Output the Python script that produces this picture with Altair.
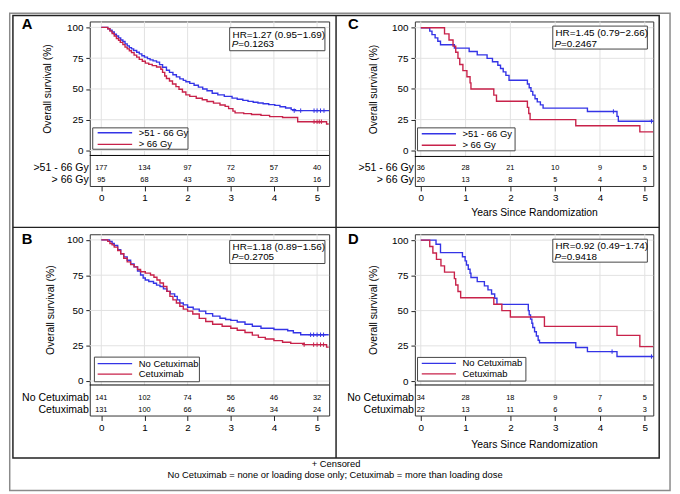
import altair as alt
import pandas as pd

FONT = "Liberation Sans"
BLUE = "#3434e6"
RED = "#c8224a"
GRIDC = "#e2e2e2"
FRAMEC = "#333333"
BOXC = "#444444"
PLUS = "M-1,0L1,0M0,-1L0,1"

TICKS_X = [0, 1, 2, 3, 4, 5]
TICKS_Y = [0, 25, 50, 75, 100]
YTITLE = "Overall survival (%)"
XTITLE = "Years Since Randomization"

# ---------------- Panel A : radiation dose, all patients ----------------
a_groups = [">51 - 66 Gy", "> 66 Gy"]
a_blue_t = [0, 0.15, 0.2, 0.25, 0.3, 0.35, 0.4, 0.45, 0.5, 0.55, 0.6, 0.65, 0.7, 0.75, 0.82, 0.88, 0.94, 1.0,
            1.07, 1.13, 1.2, 1.28, 1.35, 1.42, 1.51, 1.58, 1.66, 1.74, 1.82, 1.9, 1.96, 2.05, 2.15, 2.25, 2.35,
            2.45, 2.57, 2.7, 2.85, 3.03, 3.15, 3.28, 3.4, 3.52, 3.63, 3.75, 3.88, 4.02, 4.14, 4.27, 4.4, 4.5, 5.28]
a_blue_s = [100, 98.9, 97.7, 96.2, 94.4, 93.0, 91.5, 89.8, 88.5, 86.6, 85.0, 83.6, 82.5, 81.2, 79.8, 78.5, 77.0,
            75.8, 74.6, 73.6, 72.8, 71.8, 69.8, 67.6, 65.2, 63.5, 61.5, 59.8, 58.2, 57.0, 55.9, 54.5, 53.0, 51.5,
            50.0, 48.5, 46.5, 45.2, 44.0, 42.6, 41.6, 40.7, 39.9, 39.2, 38.6, 38.0, 37.3, 36.7, 35.6, 34.5, 33.2,
            32.4, 32.4]
a_red_t = [0, 0.15, 0.2, 0.25, 0.3, 0.35, 0.4, 0.44, 0.5, 0.55, 0.6, 0.65, 0.7, 0.76, 0.82, 0.88, 0.95, 1.02,
           1.1, 1.18, 1.28, 1.38, 1.42, 1.47, 1.51, 1.58, 1.65, 1.73, 1.8, 1.88, 1.96, 2.05, 2.2, 2.34, 2.45,
           2.6, 2.75, 2.87, 2.95, 3.05, 3.1, 3.3, 3.48, 3.7, 3.9, 4.2, 4.55, 5.22, 5.27]
a_red_s = [100, 98.9, 97.0, 95.0, 93.0, 91.0, 89.5, 87.8, 86.0, 84.0, 82.5, 81.0, 79.5, 77.5, 75.8, 74.0, 72.5,
           71.0, 70.0, 68.9, 67.8, 66.0, 63.5, 60.5, 58.5, 56.5, 54.0, 51.9, 49.8, 47.5, 45.2, 44.0, 42.5, 41.2,
           39.8, 38.5, 37.0, 35.9, 34.0, 32.0, 30.6, 30.0, 29.3, 28.5, 27.5, 26.8, 23.4, 21.5, 21.5]
a_cens_blue_t = [4.47, 4.62, 4.93, 5.0, 5.08, 5.16]
a_cens_blue_s = [32.4, 32.4, 32.4, 32.4, 32.4, 32.4]
a_cens_red_t = [4.93, 5.0, 5.05, 5.1]
a_cens_red_s = [23.4, 23.4, 23.4, 23.4]
a_risk_1 = [177, 134, 97, 72, 57, 40]
a_risk_2 = [95, 68, 43, 30, 23, 16]
a_hr = "HR=1.27 (0.95\u22121.69)"
a_p = "=0.1263"

# ---------------- Panel B : cetuximab, all patients ----------------
b_groups = ["No Cetuximab", "Cetuximab"]
b_blue_t = [0, 0.19, 0.25, 0.3, 0.38, 0.45, 0.52, 0.6, 0.68, 0.76, 0.84, 0.91, 0.97, 1.02, 1.1, 1.21, 1.28, 1.36,
            1.44, 1.52, 1.6, 1.7, 1.76, 1.82, 1.9, 2.0, 2.13, 2.27, 2.42, 2.58, 2.75, 2.88, 3.0, 3.15, 3.33, 3.5,
            3.7, 4.0, 4.32, 4.45, 4.62, 5.27]
b_blue_s = [100, 99.0, 97.5, 96.0, 93.0, 90.2, 88.0, 85.6, 83.0, 80.9, 78.0, 75.1, 73.0, 71.6, 70.5, 69.3, 68.0,
            67.0, 65.3, 63.5, 61.8, 60.0, 57.5, 55.3, 54.0, 52.3, 51.0, 49.5, 47.8, 46.0, 44.5, 43.6, 43.0, 41.8,
            40.2, 38.8, 37.4, 36.5, 35.6, 34.2, 32.8, 32.8]
b_red_t = [0, 0.15, 0.2, 0.25, 0.3, 0.38, 0.45, 0.52, 0.6, 0.68, 0.76, 0.84, 0.91, 1.02, 1.14, 1.22, 1.29, 1.36,
           1.44, 1.52, 1.59, 1.66, 1.74, 1.82, 1.9, 2.0, 2.12, 2.27, 2.42, 2.58, 2.8, 3.0, 3.15, 3.33, 3.5, 3.64,
           3.8, 4.0, 4.2, 4.39, 4.7, 5.22, 5.27]
b_red_s = [100, 99.0, 97.5, 96.5, 94.9, 92.5, 90.2, 87.0, 84.4, 82.5, 80.9, 79.0, 77.4, 76.5, 75.1, 73.5, 71.6,
           69.5, 67.0, 63.5, 60.0, 57.5, 55.3, 53.0, 51.0, 49.5, 47.5, 44.4, 42.2, 40.2, 38.8, 37.4, 36.0, 34.4,
           32.5, 30.9, 29.8, 28.6, 27.5, 26.7, 25.8, 24.0, 24.0]
b_cens_blue_t = [4.85, 4.92, 5.0, 5.08, 5.15]
b_cens_blue_s = [32.8, 32.8, 32.8, 32.8, 32.8]
b_cens_red_t = [4.7, 4.92, 5.0, 5.08, 5.15]
b_cens_red_s = [25.8, 25.8, 25.8, 25.8, 25.8]
b_risk_1 = [141, 102, 74, 56, 46, 32]
b_risk_2 = [131, 100, 66, 46, 34, 24]
b_hr = "HR=1.18 (0.89\u22121.56)"
b_p = "=0.2705"

# ---------------- Panel C : radiation dose, subgroup ----------------
c_groups = [">51 - 66 Gy", "> 66 Gy"]
c_blue_t = [0, 0.2, 0.25, 0.32, 0.38, 0.44, 0.75, 1.08, 1.26, 1.48, 1.6, 1.72, 1.78, 1.84, 1.9, 1.97, 2.38, 2.42,
            2.46, 2.5, 2.55, 2.6, 2.67, 2.73, 3.72, 4.38, 4.41, 5.19]
c_blue_s = [100, 97.2, 94.4, 91.7, 88.9, 86.1, 83.3, 80.6, 77.8, 75.0, 72.2, 69.4, 66.7, 63.9, 61.1, 57.1, 54.0,
            51.0, 48.0, 45.0, 42.0, 39.5, 37.0, 34.3, 31.6, 27.6, 23.6, 23.6]
c_red_t = [0, 0.53, 0.63, 0.72, 0.78, 0.83, 0.87, 0.94, 1.03, 1.1, 1.12, 1.63, 1.69, 2.38, 2.41, 2.44, 3.46, 4.89, 5.19]
c_red_s = [100, 95, 90, 85, 80, 75, 70, 65, 60, 55, 50, 45, 40, 35, 30, 25, 20, 15, 15]
c_cens_blue_t = [4.3, 5.15]
c_cens_blue_s = [31.6, 23.6]
c_cens_red_t = []
c_cens_red_s = []
c_risk_1 = [36, 28, 21, 10, 9, 5]
c_risk_2 = [20, 13, 8, 5, 4, 3]
c_hr = "HR=1.45 (0.79\u22122.66)"
c_p = "=0.2467"

# ---------------- Panel D : cetuximab, subgroup ----------------
d_groups = ["No Cetuximab", "Cetuximab"]
d_blue_t = [0, 0.34, 0.44, 0.93, 0.99, 1.02, 1.06, 1.1, 1.12, 1.26, 1.42, 1.5, 1.58, 1.65, 1.7, 2.4, 2.42, 2.45,
            2.48, 2.5, 2.54, 2.58, 2.62, 2.65, 3.46, 3.72, 4.38, 5.19]
d_blue_s = [100, 97.1, 91.2, 88.2, 85.3, 82.4, 79.4, 76.5, 73.5, 70.6, 67.6, 64.7, 61.8, 58.8, 54.4, 50.0, 47.0,
            44.0, 41.0, 38.0, 35.0, 32.0, 29.0, 27.2, 23.8, 20.9, 17.4, 17.4]
d_red_t = [0, 0.2, 0.27, 0.35, 0.45, 0.53, 0.75, 0.78, 0.83, 0.89, 1.63, 1.81, 2.0, 2.76, 4.38, 4.89, 5.19]
d_red_s = [100, 95.5, 90.9, 86.4, 81.8, 77.3, 72.7, 68.2, 63.6, 59.1, 54.5, 50.0, 45.5, 38.8, 32.4, 24.4, 24.4]
d_cens_blue_t = [4.27, 5.15]
d_cens_blue_s = [20.9, 17.4]
d_cens_red_t = []
d_cens_red_s = []
d_risk_1 = [34, 28, 18, 9, 7, 5]
d_risk_2 = [22, 13, 11, 6, 6, 3]
d_hr = "HR=0.92 (0.49\u22121.74)"
d_p = "=0.9418"

FOOT_1 = "+ Censored"
FOOT_2 = "No Cetuximab = none or loading dose only; Cetuximab = more than loading dose"

# ---------------- geometry (pixels, styles only) ----------------
GEO = {
    "A": dict(W=243, H=167, Hp=136, xdom=[-0.267, 5.28], ydom=[-4.0, 104.8], ry=[149, 161], ytx=-43,
              xtitle=False, tp=5, hr=(142, 238.7, 6.3, 29.7), hrt=(145, 16.3, 26.3),
              leg=(3, 99.7, 108, 129.7), legl=(8, 43, 113, 124.7), legt=49.7, let=(-69, 8)),
    "B": dict(W=243, H=184, Hp=153, xdom=[-0.267, 5.28], ydom=[-2.8, 104.0], ry=[166, 178], ytx=-39.5,
              xtitle=False, tp=5, hr=(142, 238.7, 6.3, 29.7), hrt=(145, 16.3, 26.3),
              leg=(4.7, 111.3, 124.7, 149.7), legl=(8, 43, 131.3, 142), legt=49.7, let=(-69, 10)),
    "C": dict(W=242, H=167, Hp=137, xdom=[-0.132, 5.19], ydom=[-5.1, 105.1], ry=[148.7, 161], ytx=-42,
              xtitle=True, tp=5, hr=(140, 236, 4.7, 28), hrt=(142.7, 14.7, 25.7),
              leg=(2.7, 101.7, 108, 131.3), legl=(7, 41.7, 114, 125.7), legt=48.3, let=(-68, 8)),
    "D": dict(W=242, H=184, Hp=153, xdom=[-0.132, 5.19], ydom=[-2.8, 104.2], ry=[166, 178], ytx=-42,
              xtitle=True, tp=7, hr=(140, 236, 5, 28.3), hrt=(142.7, 15, 26),
              leg=(2.7, 112.7, 125, 149), legl=(7, 41.7, 131, 141.7), legt=48.3, let=(-68, 10)),
}


def one():
    return pd.DataFrame({"k": [0]})


def txt(s):
    return pd.DataFrame({"s": [s]})


def km_panel(letter, groups, bt, bs, rt, rs, cbt, cbs, crt, crs, risk1, risk2, hr, pv, g):
    assert len(bt) == len(bs) and len(rt) == len(rs)
    W, H, Hp = g["W"], g["H"], g["Hp"]
    xs = alt.Scale(domain=g["xdom"], nice=False, zero=False)
    ys = alt.Scale(domain=g["ydom"], range=[Hp, 0], nice=False, zero=False)
    cs = alt.Scale(domain=groups, range=[BLUE, RED])

    curves = pd.DataFrame({"t": bt + rt, "S": bs + rs,
                           "group": [groups[0]] * len(bt) + [groups[1]] * len(rt)})
    cens = pd.DataFrame({"t": cbt + crt, "S": cbs + crs,
                         "group": [groups[0]] * len(cbt) + [groups[1]] * len(crt)})

    xa = dict(values=TICKS_X, format="d", grid=False, domain=False, tickSize=5, tickColor="#222222",
              labelFont=FONT, labelFontSize=10, labelColor="black", labelPadding=2, labelFlush=False,
              titleFont=FONT, titleFontSize=10.5, titleFontWeight="normal", titleColor="black")
    if g["xtitle"]:
        xa["title"] = XTITLE
        xa["titlePadding"] = g["tp"]
    else:
        xa["title"] = None
    ya = dict(values=TICKS_Y, grid=False, domain=False, tickSize=4, tickColor="#222222",
              labelFont=FONT, labelFontSize=10, labelColor="black", labelPadding=3, labelFlush=False,
              title=YTITLE, titleFont=FONT, titleFontSize=10.5, titleFontWeight="normal", titleColor="black",
              titleX=g["ytx"], titleY=Hp / 2, titleAngle=270, titleAlign="center", titleBaseline="middle")
    X = lambda: alt.X("t:Q", scale=xs, axis=alt.Axis(**xa))
    Y = lambda: alt.Y("S:Q", scale=ys, axis=alt.Axis(**ya))

    vgrid = alt.Chart(pd.DataFrame({"t": TICKS_X})).mark_rule(color=GRIDC, strokeWidth=1).encode(
        x=X(), y=alt.value(0), y2=alt.value(Hp))
    hgrid = alt.Chart(pd.DataFrame({"S": TICKS_Y})).mark_rule(color=GRIDC, strokeWidth=1).encode(
        y=Y(), x=alt.value(0), x2=alt.value(W))
    lines = alt.Chart(curves).mark_line(interpolate="step-after", strokeWidth=1.4, clip=True).encode(
        x=X(), y=Y(), color=alt.Color("group:N", scale=cs, legend=None))
    censl = alt.Chart(cens).mark_point(shape=PLUS, size=20, filled=False, strokeWidth=1, opacity=1).encode(
        x=X(), y=Y(), color=alt.Color("group:N", scale=cs, legend=None))
    sep = alt.Chart(one()).mark_rule(color="black", strokeWidth=1).encode(
        x=alt.value(0), x2=alt.value(W), y=alt.value(Hp))

    layers = [vgrid, hgrid, lines, censl, sep]

    for ry, risk, lab in [(g["ry"][0], risk1, groups[0]), (g["ry"][1], risk2, groups[1])]:
        layers.append(alt.Chart(pd.DataFrame({"t": TICKS_X, "n": risk})).mark_text(
            font=FONT, fontSize=7.5, color="black", baseline="middle").encode(
            x=X(), y=alt.value(ry), text="n:Q"))
        layers.append(alt.Chart(txt(lab)).mark_text(
            font=FONT, fontSize=10.7, color="black", align="right", baseline="middle").encode(
            x=alt.value(-1), y=alt.value(ry), text="s:N"))

    hx1, hx2, hy1, hy2 = g["hr"]
    tx, b1, b2 = g["hrt"]
    layers.append(alt.Chart(one()).mark_rect(fill="white", stroke=BOXC, strokeWidth=1).encode(
        x=alt.value(hx1), x2=alt.value(hx2), y=alt.value(hy1), y2=alt.value(hy2)))
    layers.append(alt.Chart(txt(hr)).mark_text(font=FONT, fontSize=10, color="black", align="left",
                                               baseline="alphabetic").encode(
        x=alt.value(tx), y=alt.value(b1), text="s:N"))
    layers.append(alt.Chart(txt("P")).mark_text(font=FONT, fontSize=10, color="black", align="left",
                                                baseline="alphabetic", fontStyle="italic").encode(
        x=alt.value(tx - 1), y=alt.value(b2), text="s:N"))
    layers.append(alt.Chart(txt(pv)).mark_text(font=FONT, fontSize=10, color="black", align="left",
                                               baseline="alphabetic").encode(
        x=alt.value(tx + 5.7), y=alt.value(b2), text="s:N"))

    lx1, lx2, ly1, ly2 = g["leg"]
    sx1, sx2, sy1, sy2 = g["legl"]
    layers.append(alt.Chart(one()).mark_rect(fill="white", stroke=BOXC, strokeWidth=1).encode(
        x=alt.value(lx1), x2=alt.value(lx2), y=alt.value(ly1), y2=alt.value(ly2)))
    for sy, col, lab in [(sy1, BLUE, groups[0]), (sy2, RED, groups[1])]:
        layers.append(alt.Chart(one()).mark_rule(color=col, strokeWidth=1.4).encode(
            x=alt.value(sx1), x2=alt.value(sx2), y=alt.value(sy)))
        layers.append(alt.Chart(txt(lab)).mark_text(font=FONT, fontSize=9.6, color="black", align="left",
                                                    baseline="middle").encode(
            x=alt.value(g["legt"]), y=alt.value(sy), text="s:N"))

    lx, ly = g["let"]
    layers.append(alt.Chart(txt(letter)).mark_text(font=FONT, fontSize=15, fontWeight="bold", color="black",
                                                   align="left", baseline="alphabetic").encode(
        x=alt.value(lx), y=alt.value(ly), text="s:N"))
    return layers


pA_layers = km_panel("A", a_groups, a_blue_t, a_blue_s, a_red_t, a_red_s, a_cens_blue_t, a_cens_blue_s,
                     a_cens_red_t, a_cens_red_s, a_risk_1, a_risk_2, a_hr, a_p, GEO["A"])
pB_layers = km_panel("B", b_groups, b_blue_t, b_blue_s, b_red_t, b_red_s, b_cens_blue_t, b_cens_blue_s,
                     b_cens_red_t, b_cens_red_s, b_risk_1, b_risk_2, b_hr, b_p, GEO["B"])
pC_layers = km_panel("C", c_groups, c_blue_t, c_blue_s, c_red_t, c_red_s, c_cens_blue_t, c_cens_blue_s,
                     c_cens_red_t, c_cens_red_s, c_risk_1, c_risk_2, c_hr, c_p, GEO["C"])
pD_layers = km_panel("D", d_groups, d_blue_t, d_blue_s, d_red_t, d_red_s, d_cens_blue_t, d_cens_blue_s,
                     d_cens_red_t, d_cens_red_s, d_risk_1, d_risk_2, d_hr, d_p, GEO["D"])

# figure frame, 2x2 grid and footnotes (pixel positions relative to panel A's plot)
frame = [
    alt.Chart(one()).mark_rect(fill=None, stroke="#8a8a8a", strokeWidth=1.5).encode(
        x=alt.value(-81.25), x2=alt.value(589), y=alt.value(-8.25), y2=alt.value(476)),
    alt.Chart(one()).mark_rect(fill=None, stroke="#222222", strokeWidth=1.5).encode(
        x=alt.value(-78), x2=alt.value(578), y=alt.value(-6), y2=alt.value(443)),
    alt.Chart(one()).mark_rule(color="#222222", strokeWidth=1.5).encode(
        x=alt.value(250), y=alt.value(-6), y2=alt.value(443)),
    alt.Chart(one()).mark_rule(color="#222222", strokeWidth=1.5).encode(
        x=alt.value(-78), x2=alt.value(578), y=alt.value(209)),
    alt.Chart(txt(FOOT_1)).mark_text(font=FONT, fontSize=9.5, color="black", align="center",
                                     baseline="middle").encode(
        x=alt.value(250), y=alt.value(449), text="s:N"),
    alt.Chart(txt(FOOT_2)).mark_text(font=FONT, fontSize=9.5, color="black", align="center",
                                     baseline="middle").encode(
        x=alt.value(249), y=alt.value(460), text="s:N"),
]

pA = alt.layer(*(pA_layers + frame)).properties(width=GEO["A"]["W"], height=GEO["A"]["H"])
pB = alt.layer(*pB_layers).properties(width=GEO["B"]["W"], height=GEO["B"]["H"])
pC = alt.layer(*pC_layers).properties(width=GEO["C"]["W"], height=GEO["C"]["H"])
pD = alt.layer(*pD_layers).properties(width=GEO["D"]["W"], height=GEO["D"]["H"])

chart = alt.concat(pA, pC, pB, pD, columns=2, spacing={"row": 32, "column": 87},
                   bounds="flush", align="all").properties(
    padding=0, background="white").configure_view(stroke=FRAMEC, strokeWidth=1)

chart.save("out.html", embed_options={"renderer": "svg", "actions": False})
